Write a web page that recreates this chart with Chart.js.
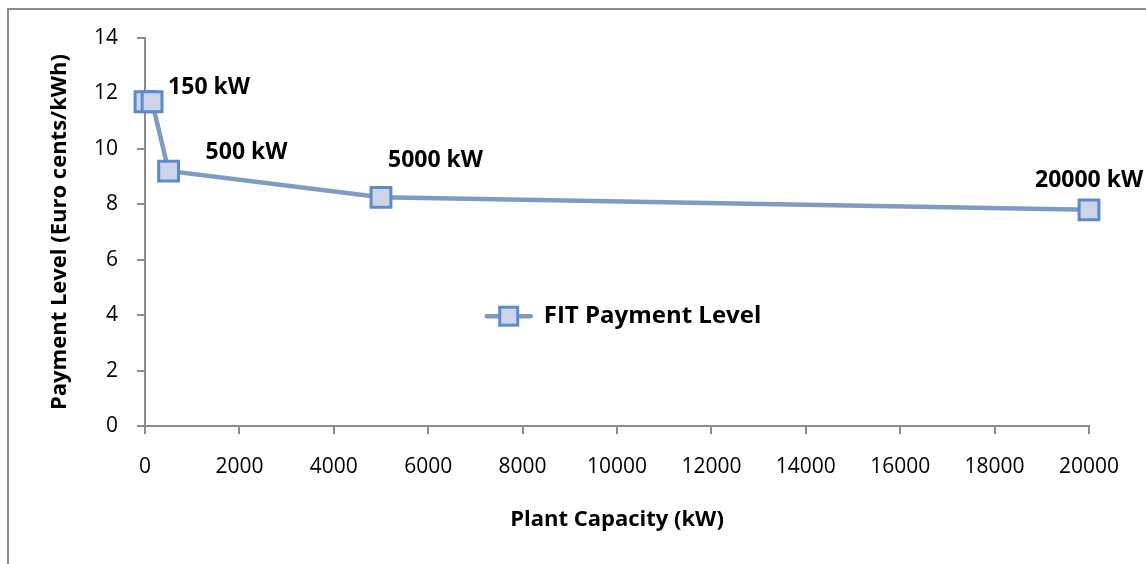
<!DOCTYPE html>
<html>
<head>
<meta charset="utf-8">
<script src="https://cdn.jsdelivr.net/npm/chart.js@4.4.0/dist/chart.umd.min.js"></script>
<style>
    html, body { margin: 0; padding: 0; background: #fff; overflow: hidden; }
    #wrap { position: relative; width: 1146px; height: 564px; }
    #frame {
        position: absolute; left: 7px; top: 8px; width: 1200px; height: 600px;
        border-top: 2px solid #8c8c8c; border-left: 2px solid #8c8c8c;
    }
    canvas { position: absolute; left: 0; top: 0; }
</style>
</head>
<body>
<div id="wrap">
    <div id="frame"></div>
    <canvas id="fitChart" width="1146" height="564"></canvas>
</div>
<script>
// Chart data
const capacities = [0, 150, 500, 5000, 20000];
const paymentLevels = [11.7, 11.7, 9.2, 8.25, 7.8];
const pointLabels = ["", "150 kW", "500 kW", "5000 kW", "20000 kW"];
const seriesName = "FIT Payment Level";
const xTicks = { min: 0, max: 20000, step: 2000 };
const yTicks = { min: 0, max: 14, step: 2 };

const colors = {
    line: "#7f9bc3",
    markerBorder: "#5b8bcc",
    markerFill: "#cdd4ea",
    axis: "#8c8c8c",
    text: "#000000",
};
const FONT = "'Open Sans', sans-serif";

// label placement relative to each point (px)
const labelOffsets = [[0, 0], [16, -14], [37, -19], [7, -37], [-54, -29]];

const pointLabelPlugin = {
    id: "pointLabels",
    afterDatasetsDraw(chart) {
        const { ctx } = chart;
        const meta = chart.getDatasetMeta(0);
        ctx.save();
        ctx.font = "bold 23px " + FONT;
        ctx.fillStyle = colors.text;
        ctx.textAlign = "left";
        ctx.textBaseline = "middle";
        meta.data.forEach((pt, i) => {
            if (!pointLabels[i]) return;
            ctx.fillText(pointLabels[i], pt.x + labelOffsets[i][0], pt.y + labelOffsets[i][1]);
        });
        ctx.restore();
    },
};

const insideLegendPlugin = {
    id: "insideLegend",
    afterDraw(chart) {
        const { ctx, chartArea } = chart;
        const x = chartArea.left + (chartArea.right - chartArea.left) * 0.362;
        const y = chartArea.top + (chartArea.bottom - chartArea.top) * 0.717;
        ctx.save();
        ctx.strokeStyle = colors.line;
        ctx.lineWidth = 4.5;
        ctx.lineCap = "round";
        ctx.beginPath();
        ctx.moveTo(x, y);
        ctx.lineTo(x + 44, y);
        ctx.stroke();
        ctx.fillStyle = colors.markerFill;
        ctx.strokeStyle = colors.markerBorder;
        ctx.lineWidth = 3;
        ctx.fillRect(x + 13, y - 9, 18, 18);
        ctx.strokeRect(x + 13, y - 9, 18, 18);
        ctx.font = "bold 24px " + FONT;
        ctx.fillStyle = colors.text;
        ctx.textBaseline = "middle";
        ctx.fillText(seriesName, x + 57, y);
        ctx.restore();
    },
};

new Chart(document.getElementById("fitChart").getContext("2d"), {
    type: "line",
    data: {
        datasets: [
            {
                label: seriesName,
                data: capacities.map((c, i) => ({ x: c, y: paymentLevels[i] })),
                borderColor: colors.line,
                borderWidth: 4.5,
                backgroundColor: colors.markerFill,
                pointStyle: "rect",
                pointRadius: 14,
                pointHoverRadius: 14,
                pointBorderColor: colors.markerBorder,
                pointBorderWidth: 3,
                pointBackgroundColor: colors.markerFill,
                tension: 0,
                clip: false,
            },
        ],
    },
    options: {
        responsive: false,
        animation: false,
        layout: { padding: { top: 38, right: 57, left: 0, bottom: 0 } },
        plugins: {
            legend: { display: false },
            tooltip: { enabled: false },
        },
        scales: {
            x: {
                type: "linear",
                min: xTicks.min,
                max: xTicks.max,
                afterFit: (s) => { s.height = 138; },
                border: { display: true, color: colors.axis, width: 2 },
                grid: { drawOnChartArea: false, drawTicks: true, tickLength: 8, color: colors.axis, lineWidth: 2 },
                ticks: {
                    stepSize: xTicks.step,
                    padding: 20,
                    maxRotation: 0,
                    color: colors.text,
                    font: { family: FONT, size: 21 },
                    callback: (v) => String(v),
                },
                title: {
                    display: true,
                    text: "Plant Capacity (kW)",
                    color: colors.text,
                    font: { family: FONT, size: 22, weight: "bold" },
                    padding: { top: 0, bottom: 31 },
                },
            },
            y: {
                min: yTicks.min,
                max: yTicks.max,
                afterFit: (s) => { s.width = 145; },
                border: { display: true, color: colors.axis, width: 2 },
                grid: { drawOnChartArea: false, drawTicks: true, tickLength: 8, color: colors.axis, lineWidth: 2 },
                ticks: {
                    stepSize: yTicks.step,
                    padding: 19,
                    color: colors.text,
                    font: { family: FONT, size: 21 },
                    callback: (v) => String(v),
                },
                title: {
                    display: true,
                    text: "Payment Level (Euro cents/kWh)",
                    color: colors.text,
                    font: { family: FONT, size: 22, weight: "bold" },
                    padding: { top: 47, bottom: 0 },
                },
            },
        },
    },
    plugins: [pointLabelPlugin, insideLegendPlugin],
});
</script>
</body>
</html>
